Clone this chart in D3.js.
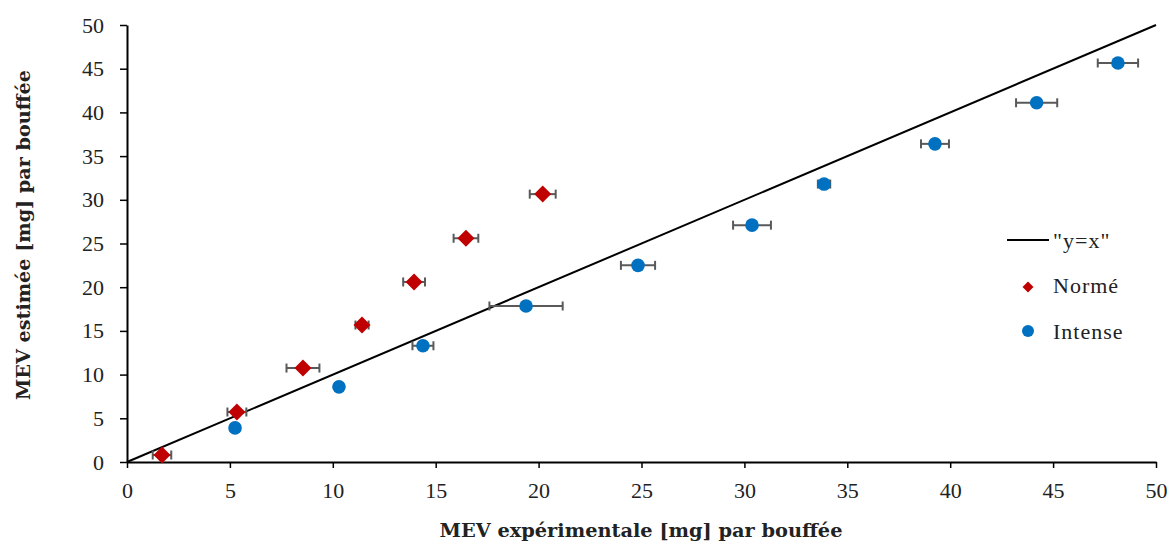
<!DOCTYPE html>
<html><head><meta charset="utf-8">
<script src="https://cdn.jsdelivr.net/npm/d3@7"></script>
<style>body{margin:0;background:#fff;} text{font-family:"Liberation Serif","DejaVu Serif",serif;fill:#222;}</style>
</head><body><svg id="c" width="1169" height="543"></svg>
<script>
// Data
const normeX   = [1.70, 5.34, 8.55, 11.42, 13.95, 16.47, 20.20];
const normeY   = [0.80, 5.72, 10.75, 15.67, 20.60, 25.60, 30.65];
const normeErr = [0.45, 0.46, 0.80, 0.32, 0.53, 0.60, 0.63];
const intenseX   = [5.25, 10.30, 14.38, 19.39, 24.83, 30.37, 33.87, 39.26, 44.20, 48.15];
const intenseY   = [3.90, 8.60, 13.30, 17.85, 22.50, 27.10, 31.80, 36.40, 41.10, 45.65];
const intenseErr = [0.00, 0.00, 0.51, 1.78, 0.83, 0.92, 0.30, 0.68, 1.00, 0.98];
const tickValues = [0,5,10,15,20,25,30,35,40,45,50];
const identityLine = [[0,0],[50,50]];
const legendLabels = ['"y=x"', 'Normé', 'Intense'];
const xTitle = "MEV expérimentale [mg] par bouffée";
const yTitle = "MEV estimée [mg] par bouffée";

const svg = d3.select("#c");
const x = d3.scaleLinear().domain([0,50]).range([127,1156]);
const y = d3.scaleLinear().domain([0,50]).range([462,25]);

// axes
const xAxis = svg.append("g").attr("transform","translate(0,462)")
  .call(d3.axisBottom(x).tickValues(tickValues).tickSize(6).tickPadding(14).tickSizeOuter(0));
const yAxis = svg.append("g").attr("transform","translate(127,0)")
  .call(d3.axisLeft(y).tickValues(tickValues).tickSize(7).tickPadding(16).tickSizeOuter(0));
[xAxis,yAxis].forEach(a=>{
  a.select(".domain").attr("stroke","#000").attr("stroke-width",2);
  a.selectAll(".tick line").attr("stroke","#000").attr("stroke-width",1.5);
  a.selectAll(".tick text").style("font-family",'"Liberation Serif",serif').style("font-size","22px").attr("fill","#222");
});

// y=x line
svg.append("path").datum(identityLine)
  .attr("d", d3.line().x(d=>x(d[0])).y(d=>y(d[1])))
  .attr("stroke","#000").attr("stroke-width",2).attr("fill","none");

function errBars(xs, ys, es){
  const g = svg.append("g").attr("stroke","#595959").attr("stroke-width",2);
  xs.forEach((xv,i)=>{
    if(es[i] <= 0) return;
    const x0=x(xv-es[i]), x1=x(xv+es[i]), yy=y(ys[i]);
    g.append("line").attr("x1",x0).attr("x2",x1).attr("y1",yy).attr("y2",yy);
    g.append("line").attr("x1",x0).attr("x2",x0).attr("y1",yy-4.5).attr("y2",yy+4.5);
    g.append("line").attr("x1",x1).attr("x2",x1).attr("y1",yy-4.5).attr("y2",yy+4.5);
  });
}
errBars(normeX, normeY, normeErr);
errBars(intenseX, intenseY, intenseErr);

function diamondPath(s){ return `M0,${-s}L${s},0L0,${s}L${-s},0Z`; }
svg.append("g").selectAll("path").data(normeX).join("path")
  .attr("d", diamondPath(8.5))
  .attr("transform",(d,i)=>`translate(${x(d)},${y(normeY[i])})`)
  .attr("fill","#C00000");
svg.append("g").selectAll("circle").data(intenseX).join("circle")
  .attr("cx",d=>x(d)).attr("cy",(d,i)=>y(intenseY[i])).attr("r",6.8)
  .attr("fill","#0070C0");

// legend
const lg = svg.append("g");
lg.append("line").attr("x1",1007).attr("x2",1049).attr("y1",240).attr("y2",240).attr("stroke","#000").attr("stroke-width",2);
lg.append("path").attr("d",diamondPath(5.5)).attr("transform","translate(1028,287)").attr("fill","#C00000");
lg.append("circle").attr("cx",1028).attr("cy",331).attr("r",6).attr("fill","#0070C0");
lg.selectAll("text").data(legendLabels).join("text")
  .attr("x",1053).attr("y",(d,i)=>[240,285,331][i]).attr("dy","0.35em")
  .style("font-size","22px").style("letter-spacing","1px").text(d=>d);

// titles
svg.append("text").attr("x",641).attr("y",537).attr("text-anchor","middle")
  .style("font-family",'"DejaVu Serif",serif').style("font-size","19px").style("font-weight","bold")
  .attr("textLength",403).attr("lengthAdjust","spacingAndGlyphs").text(xTitle);
svg.append("text").attr("transform","translate(30,235) rotate(-90)").attr("text-anchor","middle")
  .style("font-family",'"DejaVu Serif",serif').style("font-size","19px").style("font-weight","bold")
  .attr("textLength",330).attr("lengthAdjust","spacingAndGlyphs").text(yTitle);
</script></body></html>
